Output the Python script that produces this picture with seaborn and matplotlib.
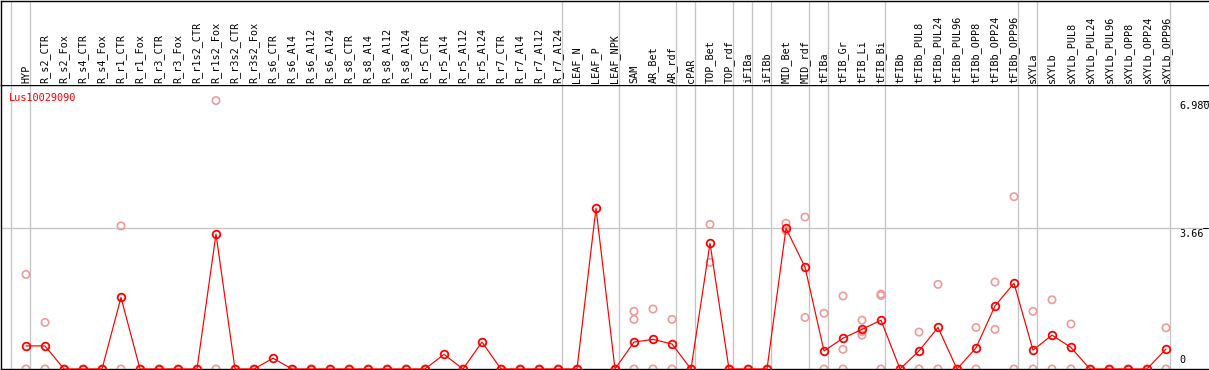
import matplotlib
matplotlib.use("Agg")
import matplotlib.pyplot as plt
import matplotlib.transforms as mtransforms
import seaborn as sns
import pandas as pd
import numpy as np

# ---------------- data ----------------
gene = "Lus10029090"
samples = ["HYP", "R_s2_CTR", "R_s2_Fox", "R_s4_CTR", "R_s4_Fox", "R_r1_CTR", "R_r1_Fox",
           "R_r3_CTR", "R_r3_Fox", "R_r1s2_CTR", "R_r1s2_Fox", "R_r3s2_CTR", "R_r3s2_Fox",
           "R_s6_CTR", "R_s6_Al4", "R_s6_Al12", "R_s6_Al24", "R_s8_CTR", "R_s8_Al4",
           "R_s8_Al12", "R_s8_Al24", "R_r5_CTR", "R_r5_Al4", "R_r5_Al12", "R_r5_Al24",
           "R_r7_CTR", "R_r7_Al4", "R_r7_Al12", "R_r7_Al24", "LEAF_N", "LEAF_P", "LEAF_NPK",
           "SAM", "AR_Bet", "AR_rdf", "cPAR", "TOP_Bet", "TOP_rdf", "iFIBa", "iFIBb",
           "MID_Bet", "MID_rdf", "tFIBa", "tFIB_Gr", "tFIB_Li", "tFIB_Bi", "tFIBb",
           "tFIBb_PUL8", "tFIBb_PUL24", "tFIBb_PUL96", "tFIBb_OPP8", "tFIBb_OPP24", "tFIBb_OPP96",
           "sXYLa", "sXYLb", "sXYLb_PUL8", "sXYLb_PUL24", "sXYLb_PUL96", "sXYLb_OPP8",
           "sXYLb_OPP24", "sXYLb_OPP96"]
means = [0.60, 0.60, 0, 0, 0, 1.86, 0, 0, 0, 0, 3.51, 0, 0,
         0.28, 0, 0, 0, 0, 0, 0, 0, 0, 0.38, 0, 0.70, 0, 0, 0, 0,
         0, 4.18, 0,
         0.70, 0.77, 0.65, 0, 3.27, 0, 0, 0, 3.66, 2.65, 0.47, 0.80, 1.03, 1.27, 0,
         0.47, 1.08, 0, 0.55, 1.64, 2.23,
         0.49, 0.88, 0.56, 0, 0, 0, 0, 0.52]
replicates = [[2.46, 0], [1.21, 0], [0], [0], [0], [3.72, 0], [0], [0], [0], [0], [6.98, 0], [0], [0],
              [], [0], [0], [0], [0], [0], [0], [0], [0], [], [0], [], [0], [0], [0], [0],
              [0], [], [0],
              [1.50, 1.29, 0], [1.56, 0], [1.29, 0], [0], [3.76, 2.77], [0], [0], [0],
              [3.79, 3.60], [3.95, 1.34], [1.45, 0], [1.90, 0.51, 0], [1.27, 0.97, 0.88],
              [1.95, 1.91, 0], [0],
              [0.96, 0], [2.20, 0], [0], [1.08, 0], [2.26, 1.03], [4.48, 0],
              [1.50, 0], [1.80, 0], [1.17, 0], [0], [0], [0], [0], [1.07, 0]]
group_sizes = [1, 28, 3, 3, 1, 2, 1, 1, 2, 1, 3, 7, 1, 7]
axis_values = [6.98, 3.66, 0]
axis_labels = ["6.980", "3.66", "0"]

# ---------------- style ----------------
sns.set_style("white")
plt.rcParams['font.family'] = ['DejaVu Sans Mono', 'DejaVu Sans']

W, H = 1209, 370
fig = plt.figure(figsize=(W / 100, H / 100), dpi=100)
fig.patch.set_facecolor("white")

RED = "#ff0000"
PINK = "#ee9a9a"
GRID = "#c4c4c4"
px = 0.72  # one pixel in points

# plot axes (y from 85 to 369 px from top)
ax = fig.add_axes([1 / W, 1 / H, 1207 / W, 284 / H])
# header axes (y from 1 to 85 px)
hx = fig.add_axes([1 / W, 285 / H, 1207 / W, 84.5 / H])

# x mapping: column i at pixel 26 + 19*i
x0, step = 26, 19
xlim = ((1 - x0) / step, (1208 - x0) / step)
ymax = 284 / 38.46
for a in (ax, hx):
    a.set_xlim(*xlim)
    a.set_xticks([])
    a.set_yticks([])
    a.set_facecolor("white")
ax.set_ylim(0, ymax)
hx.set_ylim(0, 84)

for s in ["left", "bottom", "top"]:
    ax.spines[s].set_visible(True)
    ax.spines[s].set_color("black")
    ax.spines[s].set_linewidth(1.4 * px)
ax.spines["right"].set_visible(False)
for s in ["left", "top"]:
    hx.spines[s].set_visible(True)
    hx.spines[s].set_color("black")
    hx.spines[s].set_linewidth(1.4 * px)
hx.spines["right"].set_visible(False)
hx.spines["bottom"].set_visible(False)

# separators
ends = np.cumsum(group_sizes) - 1
seps = [-1] + list(ends)
for e in seps:
    for a in (ax, hx):
        a.axvline(e + 0.23, color=GRID, lw=1.3 * px, zorder=0)
ax.axhline(3.66, color=GRID, lw=1.3 * px, zorder=0)

# replicate points
rx, ry = [], []
for i, reps in enumerate(replicates):
    for v in reps:
        rx.append(i)
        ry.append(v)
rep_df = pd.DataFrame({"x": rx, "y": ry})
sns.scatterplot(data=rep_df, x="x", y="y", ax=ax, marker="o", s=28,
                facecolor="none", edgecolor=PINK, linewidth=1.2, zorder=2,
                clip_on=False, legend=False)

# mean line
mean_df = pd.DataFrame({"x": np.arange(len(means)), "y": means})
sns.lineplot(data=mean_df, x="x", y="y", ax=ax, color=RED, lw=1.2 * px, marker="o",
             markersize=5.5, markerfacecolor="none", markeredgecolor=RED,
             markeredgewidth=1.3, zorder=3, clip_on=False, legend=False)
ax.set_xlabel("")
ax.set_ylabel("")
ax.set_xlim(*xlim)
ax.set_ylim(0, ymax)

# header labels
for i, lab in enumerate(samples):
    hx.text(i, 2, lab, rotation=90, ha="center", va="bottom", fontsize=7.3, color="black")

# gene name
ax.text((9 - x0) / step, ymax - 8 / 38.46, gene, color=RED, fontsize=7.4,
        ha="left", va="top")

# right-hand scale labels
lx = (1179 - x0) / step
for v, lab in zip(axis_values, axis_labels):
    if v == 0:
        ax.text(lx, v + 4 / 38.46, lab, fontsize=7.3, ha="left", va="bottom", color="black")
    else:
        ax.text(lx, v - 0.5 / 38.46, lab, fontsize=7.3, ha="left", va="top", color="black")
        trans = mtransforms.blended_transform_factory(ax.transAxes, ax.transData)
        ax.plot([1 - 5 / 1207, 1], [v, v], color="black", lw=px, transform=trans, clip_on=False)

fig.savefig("out.png", dpi=100, facecolor="white")
